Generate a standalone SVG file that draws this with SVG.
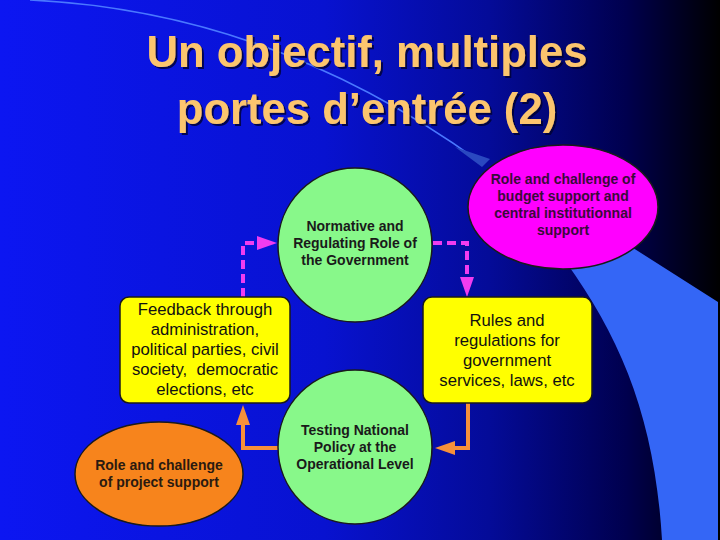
<svg xmlns="http://www.w3.org/2000/svg" width="720" height="540" viewBox="0 0 720 540">
<defs>
<linearGradient id="bg" x1="0" y1="0" x2="1" y2="0">
<stop offset="0" stop-color="#0c16f2"/>
<stop offset="0.45" stop-color="#0812d0"/>
<stop offset="0.68" stop-color="#040b98"/>
<stop offset="0.87" stop-color="#00004e"/>
<stop offset="1" stop-color="#000000"/>
</linearGradient>
<filter id="sh" x="-5%" y="-20%" width="110%" height="140%">
<feDropShadow dx="2" dy="2" stdDeviation="0.6" flood-color="#000030" flood-opacity="0.8"/>
</filter>
<marker id="am" markerUnits="userSpaceOnUse" viewBox="0 0 20 14" markerWidth="20" markerHeight="14" refX="0" refY="7" orient="auto">
<path d="M0,0 L20,7 L0,14 Z" fill="#f03cf0"/>
</marker>
<marker id="ao" markerUnits="userSpaceOnUse" viewBox="0 0 20 14" markerWidth="20" markerHeight="14" refX="0" refY="7" orient="auto">
<path d="M0,0 L20,7 L0,14 Z" fill="#f7903a"/>
</marker>
<style>
.nodeStroke{stroke:#1a1a1a;stroke-width:1.5}
.bold{font-family:"Liberation Sans",Arial,sans-serif;font-weight:bold;font-size:14px;text-anchor:middle}
.reg{font-family:"Liberation Sans",Arial,sans-serif;font-size:16.7px;text-anchor:middle;fill:#111}
.mag{fill:none;stroke:#f03cf0;stroke-width:4;stroke-dasharray:9 5}
.ora{fill:none;stroke:#f7903a;stroke-width:4}
</style>
</defs>
<rect x="0" y="0" width="720" height="540" fill="url(#bg)"/>
<!-- decorative band -->
<path d="M30,0 C200,8 350,68 480,162" fill="none" stroke="#4a78ff" stroke-width="1.6"/>
<path d="M455,147 L490,159 L482,167 Z" fill="#2a48c0"/>
<path d="M560,256 L630,246 L718,302 L718,540 L662,540 C655,420 622,340 566,262 Z" fill="#3466f6"/>
<!-- title -->
<g font-family="'Liberation Sans',Arial,sans-serif" font-weight="bold" font-size="43.6" fill="#fcc56e" text-anchor="middle" filter="url(#sh)">
<text x="367" y="67">Un objectif, multiples</text>
<text x="367" y="124">portes d’entrée (2)</text>
</g>
<!-- connectors -->
<g id="connectors">
<path class="mag" d="M243,297 L243,243 L257,243" marker-end="url(#am)"/>
<path class="mag" d="M433,243 L467,243 L467,277" marker-end="url(#am)"/>
<path class="ora" d="M278,448 L243,448 L243,425" marker-end="url(#ao)"/>
<path class="ora" d="M468,403 L468,448 L455,448" marker-end="url(#ao)"/>
</g>
<g id="budget">
<ellipse cx="563" cy="207" rx="95" ry="62" fill="#ff00ff" class="nodeStroke"/>
<g class="bold" fill="#3a0a3a">
<text x="563" y="184">Role and challenge of</text>
<text x="563" y="201">budget support and</text>
<text x="563" y="218">central institutionnal</text>
<text x="563" y="235">support</text>
</g>
</g>
<g id="normative">
<circle cx="355" cy="245" r="77" fill="#88f88a" class="nodeStroke"/>
<g class="bold" fill="#1a1a1a">
<text x="355" y="231">Normative and</text>
<text x="355" y="248">Regulating Role of</text>
<text x="355" y="265">the Government</text>
</g>
</g>
<g id="testing">
<circle cx="355" cy="447" r="77" fill="#88f88a" class="nodeStroke"/>
<g class="bold" fill="#1a1a1a">
<text x="355" y="435">Testing National</text>
<text x="355" y="452">Policy at the</text>
<text x="355" y="469">Operational Level</text>
</g>
</g>
<g id="feedback">
<rect x="120" y="297" width="170" height="106" rx="9" fill="#ffff00" class="nodeStroke"/>
<g class="reg">
<text x="205" y="315">Feedback through</text>
<text x="205" y="335">administration,</text>
<text x="205" y="355">political parties, civil</text>
<text x="205" y="375" xml:space="preserve">society,  democratic</text>
<text x="205" y="395">elections, etc</text>
</g>
</g>
<g id="rules">
<rect x="423" y="297" width="169" height="106" rx="9" fill="#ffff00" class="nodeStroke"/>
<g class="reg">
<text x="507" y="326">Rules and</text>
<text x="507" y="346">regulations for</text>
<text x="507" y="366">government</text>
<text x="507" y="386">services, laws, etc</text>
</g>
</g>
<g id="project">
<ellipse cx="159" cy="474" rx="84" ry="52" fill="#f7841c" class="nodeStroke"/>
<g class="bold" fill="#2a1a10">
<text x="159" y="470">Role and challenge</text>
<text x="159" y="487">of project support</text>
</g>
</g>
</svg>
